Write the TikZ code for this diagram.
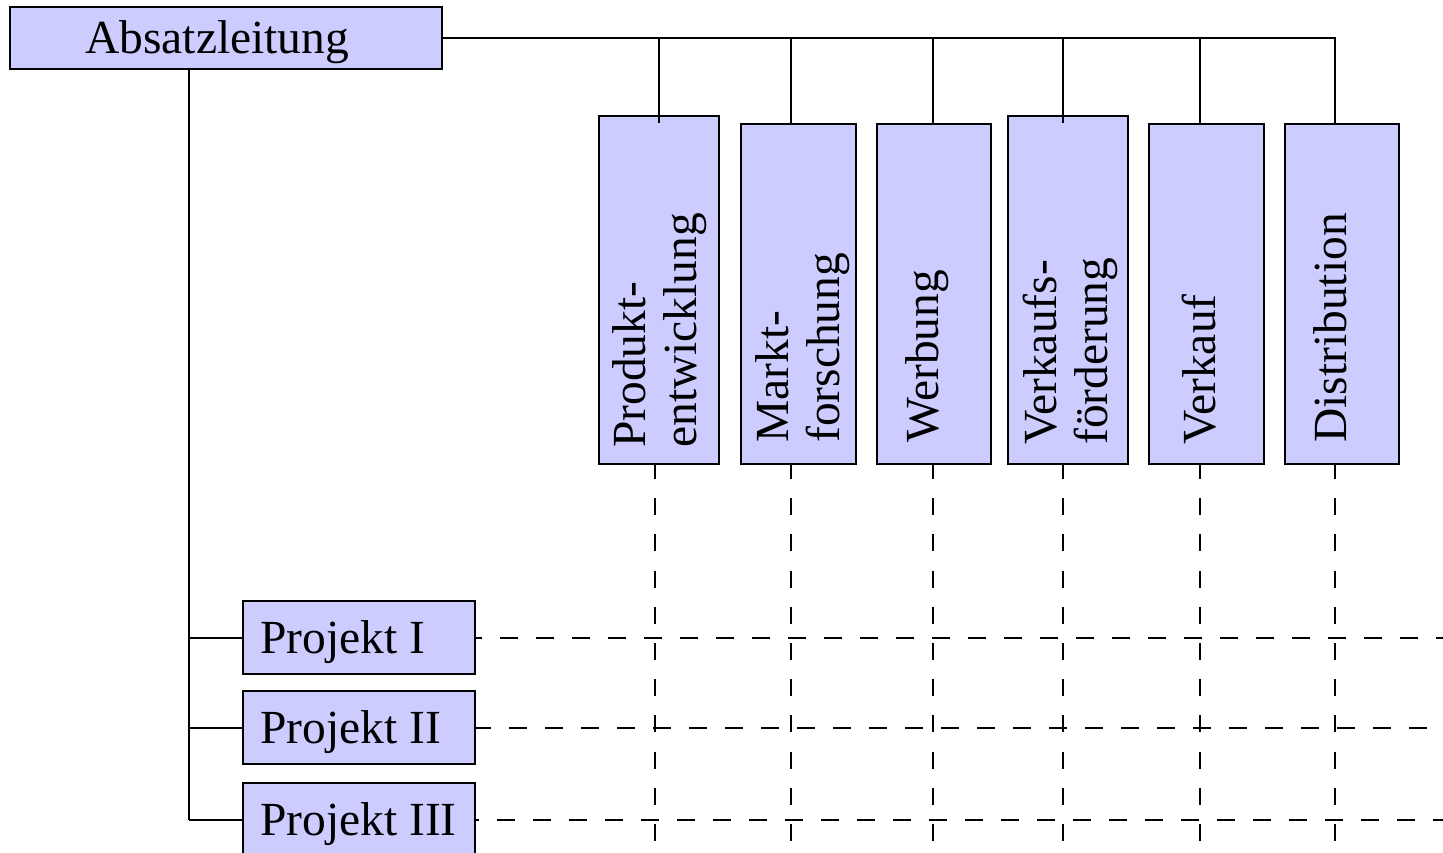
\documentclass[tikz,border=0pt]{standalone}
\usepackage{fontspec}
\setmainfont{Liberation Serif}
\definecolor{boxfill}{RGB}{204,204,255}
\begin{document}
\begin{tikzpicture}[x=1pt,y=-1pt,
  box/.style={draw, fill=boxfill, line width=2pt, inner sep=0pt, anchor=north west},
  hlbl/.style={inner sep=0pt, anchor=base west, font=\fontsize{47.5}{51}\selectfont},
  vlbl/.style={inner sep=0pt, anchor=base west, rotate=90, text width=330pt,
               align=left, font=\fontsize{47.5}{51}\selectfont},
  link/.style={line width=2pt},
  hdash/.style={line width=2pt, dash pattern=on 18pt off 18pt},
  vdash/.style={line width=2pt, dash pattern=on 17pt off 19.2pt, dash phase=3pt}]
\useasboundingbox (0,0) rectangle (1443,852);

% head of the sales department
\node[box, minimum width=432pt, minimum height=62pt] (abs) at (9,6) {};

% functional departments
\node[box, minimum width=120pt, minimum height=348pt] (prod) at (598,115) {};
\node[box, minimum width=115pt, minimum height=340pt] (mafo) at (740,123) {};
\node[box, minimum width=114pt, minimum height=340pt] (werb) at (876,123) {};
\node[box, minimum width=120pt, minimum height=348pt] (vkf)  at (1007,115) {};
\node[box, minimum width=115pt, minimum height=340pt] (verk) at (1148,123) {};
\node[box, minimum width=114pt, minimum height=340pt] (dist) at (1284,123) {};

% projects
\node[box, minimum width=232pt, minimum height=73pt] (p1) at (242,600) {};
\node[box, minimum width=232pt, minimum height=73pt] (p2) at (242,690) {};
\node[box, minimum width=232pt, minimum height=73pt] (p3) at (242,782) {};

% labels
\node[hlbl] (absT) at (85,53) {Absatzleitung};
\node[hlbl] (p1T) at (260,653) {Projekt I};
\node[hlbl] (p2T) at (260,743) {Projekt II};
\node[hlbl] (p3T) at (260,835) {Projekt III};

\node[vlbl] (prodT) at (645,448) {Produkt-\\entwicklung};
\node[vlbl] (mafoT) at (788,443) {Markt-\\forschung};
\node[vlbl] (werbT) at (938,443) {Werbung};
\node[vlbl] (vkfT)  at (1056,445) {Verkaufs-\\förderung};
\node[vlbl] (verkT) at (1215,445) {Verkauf};
\node[vlbl] (distT) at (1346,443) {Distribution};

% line positions
\coordinate (bus) at (0,38);
\coordinate (t1) at (659,123);
\coordinate (t2) at (791,123);
\coordinate (t3) at (933,123);
\coordinate (t4) at (1063,123);
\coordinate (t5) at (1200,123);
\coordinate (t6) at (1335,123);
\coordinate (spine) at (189,0);
\coordinate (re) at (1443,0);
\coordinate (d1) at (655,852);
\coordinate (d2) at (791,852);
\coordinate (d3) at (933,852);
\coordinate (d4) at (1063,852);
\coordinate (d5) at (1200,852);
\coordinate (d6) at (1335,852);

% line organisation
\draw[link] (abs.east |- bus) -- (t6 |- bus) -- (t6);
\foreach \t in {t1,t2,t3,t4,t5} \draw[link] (\t |- bus) -- (\t);

\draw[link] (spine |- abs.south) -- (spine |- p3.west);
\foreach \p in {p1,p2,p3} \draw[link] (spine |- \p.west) -- (\p.west);

% matrix (dashed) relations
\draw[hdash, dash phase=12pt] (p1.east) -- (p1.east -| re);
\draw[hdash, dash phase=3pt]  (p2.east) -- (p2.east -| re);
\draw[hdash, dash phase=15pt] (p3.east) -- (p3.east -| re);

\draw[vdash] (d1 |- prod.south) -- (d1);
\draw[vdash] (d2 |- mafo.south) -- (d2);
\draw[vdash] (d3 |- werb.south) -- (d3);
\draw[vdash] (d4 |- vkf.south)  -- (d4);
\draw[vdash] (d5 |- verk.south) -- (d5);
\draw[vdash] (d6 |- dist.south) -- (d6);
\end{tikzpicture}
\end{document}
